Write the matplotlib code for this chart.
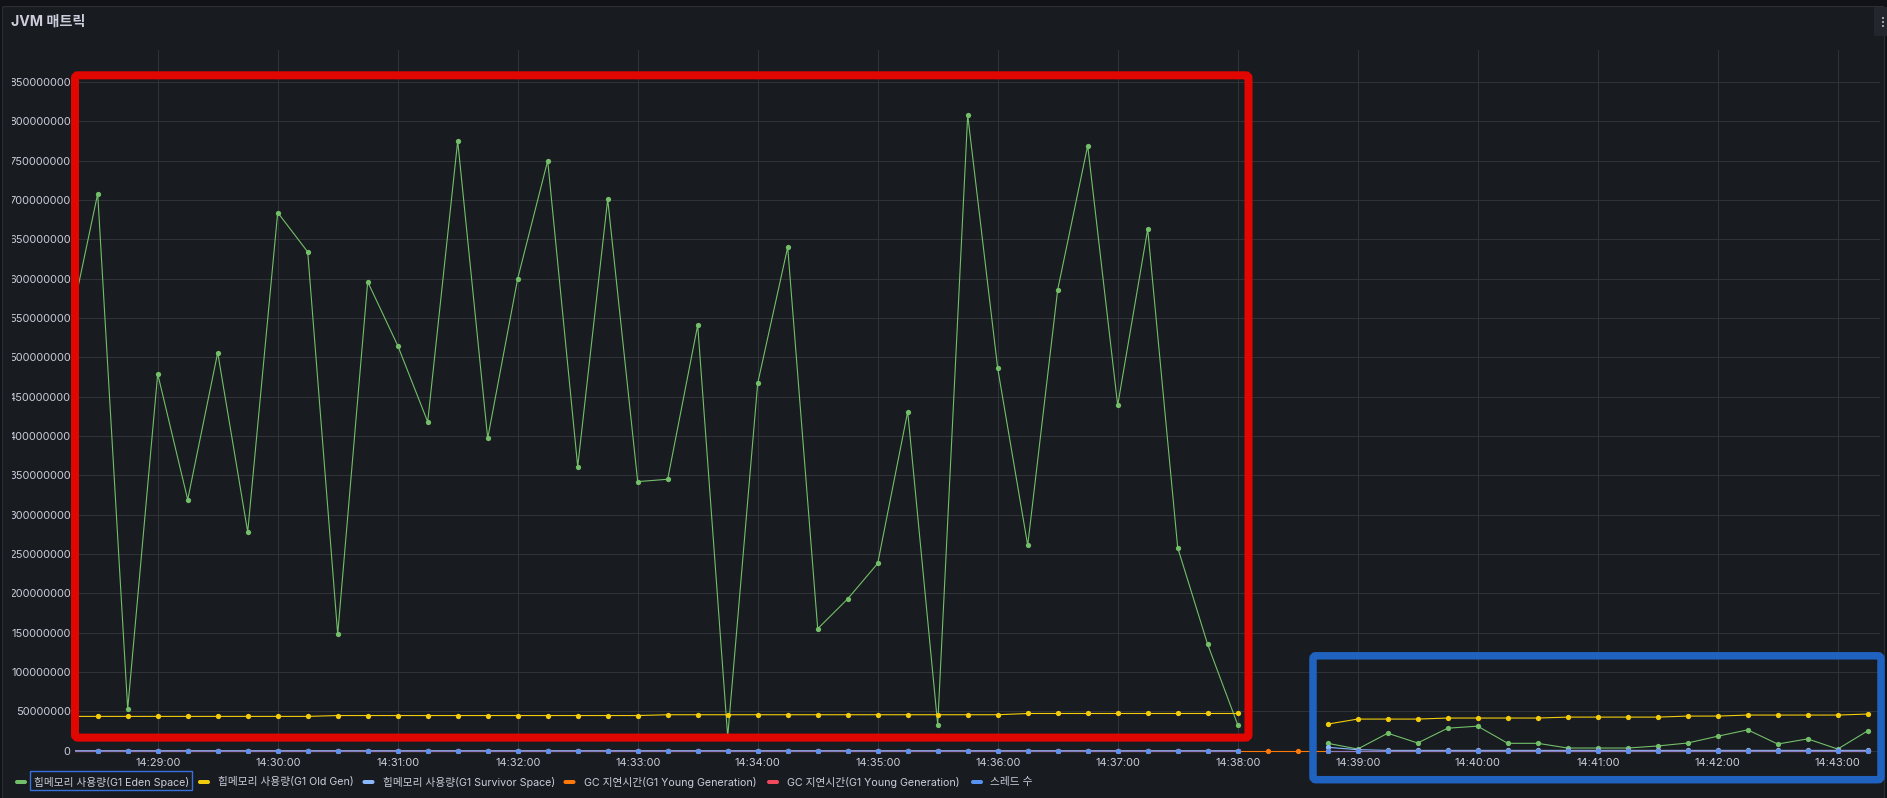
import numpy as np
import pandas as pd
import matplotlib
matplotlib.use("Agg")
import matplotlib.pyplot as plt
from matplotlib.patches import FancyBboxPatch, Rectangle
from matplotlib.transforms import Bbox
import matplotlib.dates as mdates

plt.rcParams["font.family"] = ["Inter", "Noto Sans CJK KR", "DejaVu Sans"]

# -----------------------------------------------------------
# data: 15s samples, memory values in millions of bytes
# -----------------------------------------------------------
times = pd.date_range("2024-01-01 14:28:15", "2024-01-01 14:43:15", freq="15s")

# 14:28:15 .. 14:38:00 (40 samples)
eden_left = [527, 708, 53, 479, 319, 506, 278, 684, 634, 148,
             596, 515, 418, 775, 397, 600, 750, 361, 701, 342,
             345, 541, 18, 467, 640, 155, 193, 238, 431, 33,
             808, 486, 261, 586, 769, 439, 663, 258, 135, 33]
old_left = [43.6, 43.6, 43.6, 43.6, 43.6, 43.6, 43.6, 43.6, 43.6, 44.7,
            44.7, 44.7, 44.7, 44.7, 44.7, 44.7, 44.7, 44.7, 44.7, 44.7,
            45.7, 45.7, 45.7, 45.7, 45.7, 45.7, 45.7, 45.7, 45.7, 45.7,
            45.7, 45.7, 47.3, 47.3, 47.3, 47.3, 47.3, 47.3, 47.3, 47.3]
survivor_left = [0.0] * 40

# 14:38:45 .. 14:43:15 (19 samples)
eden_right = [9.4, 2.1, 22.2, 9.8, 28.6, 31.2, 9.4, 9.4, 3.4, 3.4,
              3.4, 6.0, 9.8, 18.4, 26.5, 8.5, 15.0, 2.1, 25.2]
old_right = [33.8, 40.2, 40.2, 40.2, 41.5, 41.5, 41.5, 41.5, 42.7, 42.7,
             42.7, 42.7, 44.0, 44.0, 45.3, 45.3, 45.3, 45.3, 46.6]
survivor_right = [4.3, 1.3, 0.4, 0.4, 0.4, 0.4, 0.4, 0.4, 0.4, 0.4,
                  0.4, 0.4, 0.4, 0.4, 0.4, 0.4, 0.4, 0.4, 0.4]

gap = [np.nan, np.nan]  # 14:38:15, 14:38:30: only GC time has samples

eden = np.array(eden_left + gap + eden_right) * 1e6
old_gen = np.array(old_left + gap + old_right) * 1e6
survivor = np.array(survivor_left + gap + survivor_right) * 1e6
gc_young_1 = np.array([0.0] * 40 + [0.0, 0.0] + [0.0] * 19)
gc_young_2 = np.array([0.0] * 40 + gap + [0.0] * 19)
threads = np.array([0.0] * 40 + gap + [0.0] * 19)

series = [
    ("힙메모리 사용량(G1 Eden Space)", eden, "#73BF69"),
    ("힙메모리 사용량(G1 Old Gen)", old_gen, "#F2CC0C"),
    ("힙메모리 사용량(G1 Survivor Space)", survivor, "#8AB8FF"),
    ("GC 지연시간(G1 Young Generation)", gc_young_1, "#FF780A"),
    ("GC 지연시간(G1 Young Generation)", gc_young_2, "#F2495C"),
    ("스레드 수", threads, "#5794F2"),
]

y_ticks = list(range(0, 850000001, 50000000))
TXT = "#ccccdc"
GRID = "#2f3237"

# -----------------------------------------------------------
# figure / panel
# -----------------------------------------------------------
W, H = 1887, 798
fig = plt.figure(figsize=(W / 100, H / 100), dpi=100)
fig.patch.set_facecolor("#111217")

bg = fig.add_axes([0, 0, 1, 1], zorder=0)
bg.set_xlim(0, W)
bg.set_ylim(H, 0)
bg.axis("off")
bg.add_patch(FancyBboxPatch((2.5, 6.5), 1882, 820, boxstyle="round,pad=0,rounding_size=2",
                            fc="#181b1f", ec="#2b2e34", lw=0.8))
bg.text(11, 21.5, "JVM 매트릭", color=TXT, fontsize=10.2, fontweight="bold", va="center")
# panel menu button
bg.add_patch(FancyBboxPatch((1874, 7), 14, 29, boxstyle="round,pad=0,rounding_size=2",
                            fc="#23262c", ec="none"))
for yy in (17.7, 21.7, 25.7):
    bg.add_patch(Rectangle((1881.5, yy - 1.2), 2.4, 2.4, fc="#9a9caa", ec="none"))

# -----------------------------------------------------------
# main plot
# -----------------------------------------------------------
ax = fig.add_axes([75 / W, (H - 752.7) / H, 1805 / W, (752.7 - 50) / H], zorder=1)
ax.set_facecolor("none")

for i, (name, vals, col) in enumerate(series):
    alpha = 0.65 if i == 5 else 1.0
    ax.plot(times, vals, color=col, lw=0.8, alpha=alpha, zorder=2 + i)
    ax.plot(times, vals, color=col, lw=0, marker="o", ms=3.8, mew=0, zorder=2 + i)

ax.set_xlim(pd.Timestamp("2024-01-01 14:28:18.65"), pd.Timestamp("2024-01-01 14:43:21.15"))
ax.set_ylim(-2.54e6, 890.6e6)
ax.set_yticks(y_ticks)
ax.set_yticklabels([str(v) for v in y_ticks])
ax.xaxis.set_major_locator(mdates.MinuteLocator())
ax.xaxis.set_major_formatter(mdates.DateFormatter("%H:%M:%S"))
ax.tick_params(axis="both", length=0, colors=TXT, labelsize=7.95)
ax.tick_params(axis="x", pad=3.8)
ax.tick_params(axis="y", pad=3.1)
ax.grid(True, color=GRID, lw=0.75)
ax.set_axisbelow(True)
for s in ax.spines.values():
    s.set_visible(False)

# y labels are cut off at the left like in grafana
clip = Bbox([[11.5, 0], [W, H]])
for lab in ax.get_yticklabels():
    lab.set_clip_box(clip)
    lab.set_clip_on(True)

# -----------------------------------------------------------
# overlay: legend + highlight boxes
# -----------------------------------------------------------
ov = fig.add_axes([0, 0, 1, 1], zorder=5)
ov.set_xlim(0, W)
ov.set_ylim(H, 0)
ov.axis("off")
ov.patch.set_alpha(0)

leg_x = [(15, 33.5), (198, 218), (362.5, 382.6), (563.5, 583.5), (767, 787), (971, 990)]
leg_y = 782
for (name, vals, col), (mx, tx) in zip(series, leg_x):
    ov.add_patch(FancyBboxPatch((mx, leg_y - 2), 12, 4, boxstyle="round,pad=0,rounding_size=2",
                                fc=col, ec="none"))
    ov.text(tx, leg_y, name, color=TXT, fontsize=7.7, va="center", ha="left")
ov.add_patch(Rectangle((30.4, 771), 161.6, 19, fc="none", ec="#3871dc", lw=1.0))

ov.add_patch(FancyBboxPatch((75, 75.3), 1173.5, 662.3, boxstyle="round,pad=0,rounding_size=3",
                            fc="none", ec="#e10600", lw=5.8))
ov.add_patch(FancyBboxPatch((1313, 655.8), 568, 123.9, boxstyle="round,pad=0,rounding_size=3",
                            fc="none", ec="#2062c0", lw=5.4))

fig.savefig("out.png", dpi=100, facecolor=fig.get_facecolor())
